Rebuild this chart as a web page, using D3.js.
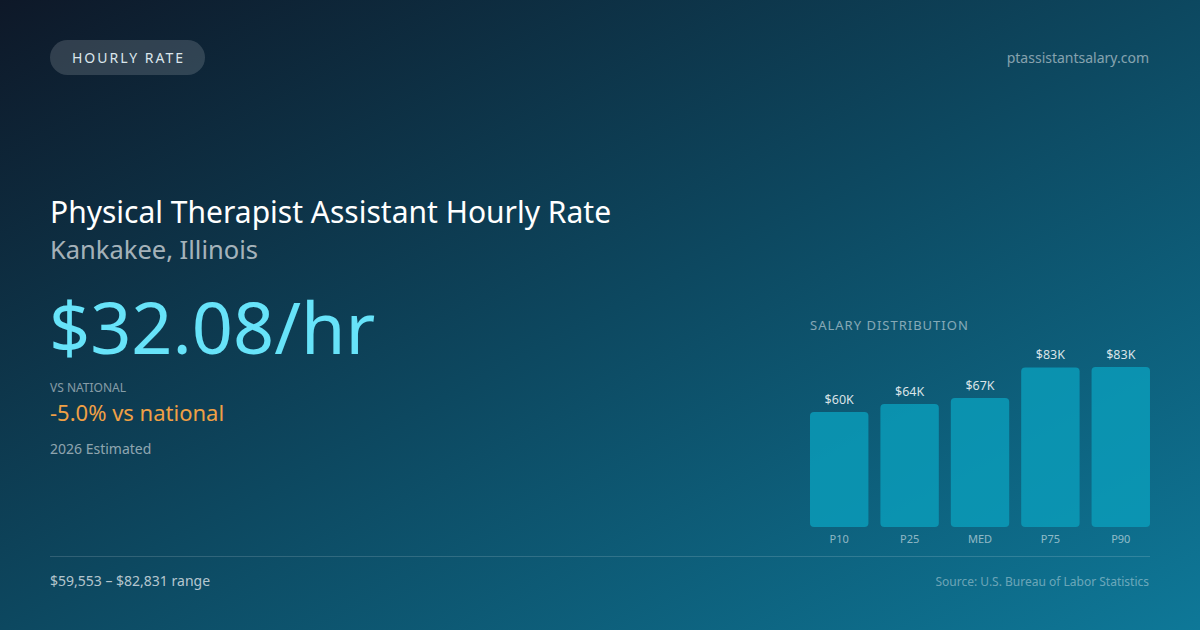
<!DOCTYPE html>
<html>
<head>
<meta charset="utf-8">
<script src="https://cdn.jsdelivr.net/npm/d3@7"></script>
<style>
  html, body { margin: 0; padding: 0; background: #0f1c2c; }
  svg { display: block; font-family: "Noto Sans", "Open Sans", sans-serif; }
</style>
</head>
<body>
<div id="chart"></div>
<script>
// salary percentiles (annual)
var categories = ["P10", "P25", "MED", "P75", "P90"];
var salaries = [59553, 63700, 66730, 82600, 82831];
var valueLabels = ["$60K", "$64K", "$67K", "$83K", "$83K"];

var hourlyRate = "$32.08/hr";
var vsNational = "-5.0% vs national";

var width = 1200, height = 630;

var svg = d3.select("#chart").append("svg")
    .attr("width", width)
    .attr("height", height);

var defs = svg.append("defs");
var grad = defs.append("linearGradient")
    .attr("id", "bg")
    .attr("x1", "0%").attr("y1", "0%")
    .attr("x2", "100%").attr("y2", "100%");
grad.append("stop").attr("offset", "0%").attr("stop-color", "#0e1828");
grad.append("stop").attr("offset", "50%").attr("stop-color", "#0d4860");
grad.append("stop").attr("offset", "100%").attr("stop-color", "#0e7898");

svg.append("rect")
    .attr("width", width)
    .attr("height", height)
    .attr("fill", "url(#bg)");

// pill badge
svg.append("rect")
    .attr("x", 50).attr("y", 40)
    .attr("width", 155).attr("height", 35)
    .attr("rx", 17.5)
    .attr("fill", "rgba(255,255,255,0.15)");

svg.append("text")
    .attr("x", 128.5).attr("y", 63)
    .attr("text-anchor", "middle")
    .attr("font-size", 14)
    .attr("letter-spacing", "2px")
    .attr("fill", "#dbe6ec")
    .text("HOURLY RATE");

svg.append("text")
    .attr("x", 1149).attr("y", 63)
    .attr("text-anchor", "end")
    .attr("font-size", 14)
    .attr("fill", "rgba(255,255,255,0.5)")
    .text("ptassistantsalary.com");

// headline block
svg.append("text")
    .attr("x", 50).attr("y", 223)
    .attr("font-size", 30)
    .attr("fill", "#ffffff")
    .text("Physical Therapist Assistant Hourly Rate");

svg.append("text")
    .attr("x", 50).attr("y", 259)
    .attr("font-size", 25.5)
    .attr("fill", "rgba(255,255,255,0.65)")
    .text("Kankakee, Illinois");

svg.append("text")
    .attr("x", 49).attr("y", 354)
    .attr("font-size", 72)
    .attr("fill", "#67e3f9")
    .text(hourlyRate);

svg.append("text")
    .attr("x", 50).attr("y", 392)
    .attr("font-size", 12)
    .attr("fill", "rgba(255,255,255,0.5)")
    .text("VS NATIONAL");

svg.append("text")
    .attr("x", 50).attr("y", 421)
    .attr("font-size", 22)
    .attr("fill", "#f0a045")
    .text(vsNational);

svg.append("text")
    .attr("x", 50).attr("y", 454)
    .attr("font-size", 14)
    .attr("fill", "rgba(255,255,255,0.55)")
    .text("2026 Estimated");

// salary distribution mini chart
svg.append("text")
    .attr("x", 810).attr("y", 330)
    .attr("font-size", 13)
    .attr("letter-spacing", "1px")
    .attr("fill", "rgba(255,255,255,0.5)")
    .text("SALARY DISTRIBUTION");

var x = d3.scaleBand()
    .domain(categories)
    .range([810, 1150])
    .paddingInner(0.17);

var y = d3.scaleLinear()
    .domain([0, d3.max(salaries)])
    .range([527, 367]);

var bars = svg.selectAll(".bar")
    .data(salaries)
    .enter().append("g")
    .attr("class", "bar")
    .attr("transform", function (d, i) { return "translate(" + x(categories[i]) + ",0)"; });

bars.append("rect")
    .attr("y", function (d) { return y(d); })
    .attr("width", x.bandwidth())
    .attr("height", function (d) { return y(0) - y(d); })
    .attr("rx", 4)
    .attr("fill", "#0a9bb9")
    .attr("fill-opacity", 0.85);

bars.append("text")
    .attr("x", x.bandwidth() / 2)
    .attr("y", function (d) { return y(d) - 8; })
    .attr("text-anchor", "middle")
    .attr("font-size", 12.5)
    .attr("fill", "rgba(255,255,255,0.85)")
    .text(function (d, i) { return valueLabels[i]; });

bars.append("text")
    .attr("x", x.bandwidth() / 2)
    .attr("y", 543)
    .attr("text-anchor", "middle")
    .attr("font-size", 11)
    .attr("fill", "rgba(255,255,255,0.55)")
    .text(function (d, i) { return categories[i]; });

// footer
svg.append("line")
    .attr("x1", 50).attr("x2", 1150)
    .attr("y1", 556.5).attr("y2", 556.5)
    .attr("stroke", "rgba(255,255,255,0.15)")
    .attr("stroke-width", 1);

svg.append("text")
    .attr("x", 50).attr("y", 586)
    .attr("font-size", 14)
    .attr("fill", "rgba(255,255,255,0.7)")
    .text("$" + d3.format(",")(salaries[0]) + " \u2013 $" + d3.format(",")(salaries[4]) + " range");

svg.append("text")
    .attr("x", 1149).attr("y", 586)
    .attr("text-anchor", "end")
    .attr("font-size", 12)
    .attr("fill", "rgba(255,255,255,0.4)")
    .text("Source: U.S. Bureau of Labor Statistics");
</script>
</body>
</html>
